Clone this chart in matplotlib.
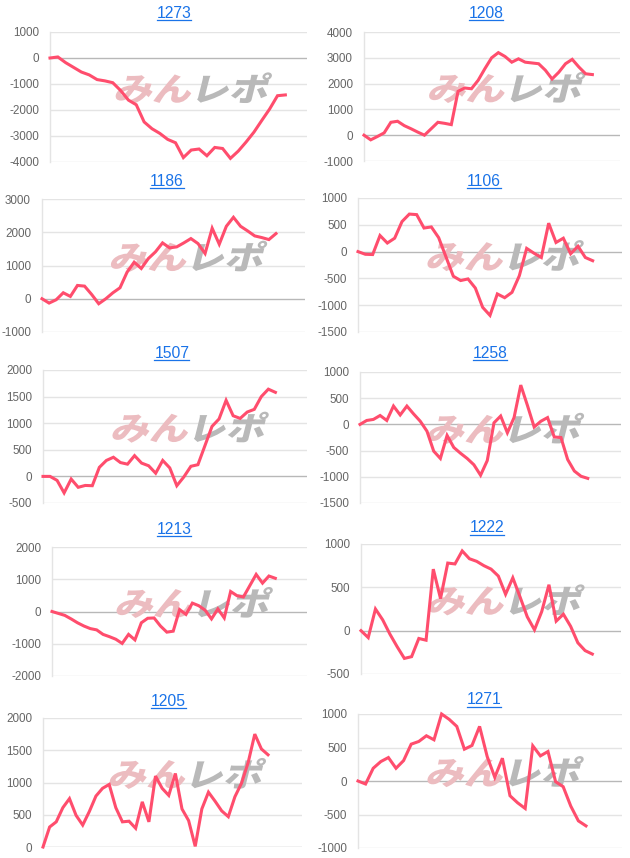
import numpy as np
import matplotlib
matplotlib.use('Agg')
from matplotlib import pyplot as plt
from matplotlib.lines import Line2D
from matplotlib.textpath import TextPath
from matplotlib.patches import PathPatch
from matplotlib.font_manager import FontProperties
from matplotlib.transforms import Affine2D, IdentityTransform

plt.rcParams['font.family'] = ['Liberation Sans', 'DejaVu Sans']

# machine numbers and daily cumulative balance
names = ['1273', '1208', '1186', '1106', '1507', '1258', '1213', '1222', '1205', '1271']

s1273 = [0, 40, -180, -360, -540, -650, -830, -880, -950, -1250, -1620, -1800, -2460, -2720,
         -2900, -3130, -3260, -3830, -3540, -3500, -3760, -3440, -3480, -3860, -3580, -3230,
         -2850, -2400, -1960, -1450, -1420]
s1208 = [0, -180, -50, 90, 500, 540, 370, 250, 120, 0, 250, 500, 460, 410, 1700, 1830, 1800,
         2130, 2580, 3000, 3200, 3050, 2830, 2960, 2830, 2800, 2770, 2520, 2180, 2440, 2770,
         2940, 2640, 2380, 2350]
s1186 = [0, -130, -30, 180, 70, 400, 380, 130, -150, 0, 180, 330, 800, 1100, 910, 1210, 1410,
         1680, 1530, 1560, 1680, 1810, 1660, 1360, 2120, 1640, 2180, 2450, 2180, 2040, 1890,
         1840, 1780, 1960]
s1106 = [0, -50, -55, 300, 160, 250, 560, 700, 690, 440, 460, 260, -100, -460, -540, -510,
         -680, -1040, -1190, -790, -860, -760, -450, 60, -30, -110, 530, 170, 250, -40, 100,
         -110, -170]
s1507 = [0, 0, -75, -310, -50, -205, -170, -175, 170, 300, 360, 260, 230, 390, 250, 200, 60,
         300, 160, -175, -10, 190, 220, 580, 940, 1080, 1430, 1140, 1090, 1210, 1260, 1500,
         1640, 1580]
s1258 = [0, 75, 95, 170, 75, 350, 180, 350, 200, 60, -130, -510, -650, -210, -440, -550, -650,
         -770, -970, -690, 30, 160, -160, 130, 750, 360, -50, 60, 130, -240, -250, -670, -890,
         -990, -1030]
s1213 = [0, -60, -120, -230, -350, -450, -530, -570, -710, -780, -860, -990, -710, -880, -350,
         -210, -200, -450, -640, -610, 60, -90, 260, 180, 40, -230, 80, -200, 620, 490, 450,
         800, 1150, 880, 1100, 1030]
s1222 = [0, -80, 250, 125, -40, -185, -320, -300, -90, -110, 710, 370, 780, 770, 920, 830, 800,
         750, 710, 630, 420, 610, 390, 160, 10, 220, 530, 110, 190, 50, -140, -230, -270]
s1205 = [0, 310, 390, 610, 750, 490, 340, 550, 790, 910, 970, 610, 390, 400, 290, 700, 390,
         1100, 910, 800, 1140, 590, 410, 10, 590, 850, 710, 560, 470, 780, 990, 1310, 1750,
         1520, 1430]
s1271 = [0, -45, 190, 290, 350, 190, 305, 550, 590, 675, 615, 1000, 920, 815, 475, 530, 815,
         365, 55, 340, -220, -325, -410, 525, 375, 440, -10, -85, -375, -595, -670]

series = [s1273, s1208, s1186, s1106, s1507, s1258, s1213, s1222, s1205, s1271]

# y axis ranges (min, max, step)
yranges = [(-4000, 1000, 1000), (-1000, 4000, 1000), (-1000, 3000, 1000), (-1500, 1000, 500),
           (-500, 2000, 500), (-1500, 1000, 500), (-2000, 2000, 1000), (-500, 1000, 500),
           (0, 2000, 500), (-1000, 1000, 500)]

# layout in pixels: axes left, top, right, bottom, title x, title y, x stretch
layout = [
    (50, 32, 307, 162, 174, 13, 1.092),
    (364, 32, 620, 161, 486, 13, 1.121),
    (42, 199, 305, 332, 167, 181, 1.124),
    (358, 198, 622, 332, 484, 181, 1.125),
    (43, 370, 307, 503, 172, 353, 1.136),
    (360, 372, 621, 503, 490, 353, 1.146),
    (52, 547, 307, 676, 174, 529, 1.142),
    (361, 544, 621, 674, 487, 528, 1.124),
    (43, 718, 302, 847, 168, 701, 1.151),
    (358, 714, 622, 848, 484, 700, 1.158),
]

W, H = 630, 858
fig = plt.figure(figsize=(W / 100, H / 100), dpi=100)
fig.patch.set_facecolor('white')

# watermark glyph outlines (pixel units)
fp = FontProperties(family='Noto Sans CJK JP', weight='heavy')
wm1 = TextPath((0, 0), 'みん', size=37, prop=fp)
wm2 = TextPath((0, 0), 'レポ', size=37, prop=fp)
e1 = wm1.get_extents()
e2 = wm2.get_extents()
gap = 7
wm_w = e1.width + gap + e2.width
wm_h = max(e1.y1, e2.y1) - min(e1.y0, e2.y0)
wm_y0 = min(e1.y0, e2.y0)


def add_watermark(ax, cx, cy):
	base = Affine2D().scale(1.05, 0.88).skew_deg(14, 0)
	x0 = cx - wm_w * 1.05 / 2
	y0 = cy - wm_h * 0.88 / 2 - wm_y0 * 0.88
	t1 = base + Affine2D().translate(x0 - e1.x0 * 1.05, y0)
	t2 = base + Affine2D().translate(x0 + (e1.width + gap - e2.x0) * 1.05, y0)
	p1 = PathPatch(t1.transform_path(wm1), fc='#ecbcc0', ec='none', zorder=2,
	               transform=IdentityTransform(), clip_on=False)
	p2 = PathPatch(t2.transform_path(wm2), fc='#b9b9b9', ec='none', zorder=2,
	               transform=IdentityTransform(), clip_on=False)
	ax.add_patch(p1)
	ax.add_patch(p2)


title_texts = []
for name, vals, (ymin, ymax, step), (l, t, r, b, tx, ty, stretch) in zip(names, series, yranges, layout):
	ax = fig.add_axes([l / W, 1 - b / H, (r - l) / W, (b - t) / H])
	x = np.arange(len(vals))
	ax.plot(x, vals, color='#ff4d6d', lw=2.2, solid_joinstyle='miter', zorder=5, clip_on=False)
	ax.set_xlim(0, (len(vals) - 1) * stretch)
	ax.set_ylim(ymin, ymax)
	ticks = np.arange(ymin, ymax + 1, step)
	ax.set_yticks(ticks)
	ax.set_yticklabels([str(v) for v in ticks])
	ax.set_xticks([])
	ax.tick_params(axis='y', length=0, pad=8, labelsize=8.4, labelcolor='#666666')
	for v in ticks:
		ax.axhline(v, color='#b8b8b8' if v == 0 else '#e4e4e4', lw=1, zorder=1)
	for sp in ['top', 'right', 'bottom']:
		ax.spines[sp].set_visible(False)
	ax.spines['left'].set_color('#e4e4e4')
	ax.spines['left'].set_linewidth(1)

	# watermark, centred a bit above the middle of the plot
	add_watermark(ax, l + 0.545 * (r - l), H - (t + 0.43 * (b - t)))

	tt = fig.text(tx / W, 1 - ty / H, name, ha='center', va='center', fontsize=11.3, color='#1a73e8')
	title_texts.append((tt, ty))

# underline the titles like links
fig.canvas.draw()
rend = fig.canvas.get_renderer()
for tt, ty in title_texts:
	bb = tt.get_window_extent(rend)
	yl = 1 - (ty + 6.5) / H
	fig.add_artist(Line2D([bb.x0 / W, bb.x1 / W], [yl, yl], color='#1a73e8', lw=0.9))

plt.savefig('out.png', dpi=100)
